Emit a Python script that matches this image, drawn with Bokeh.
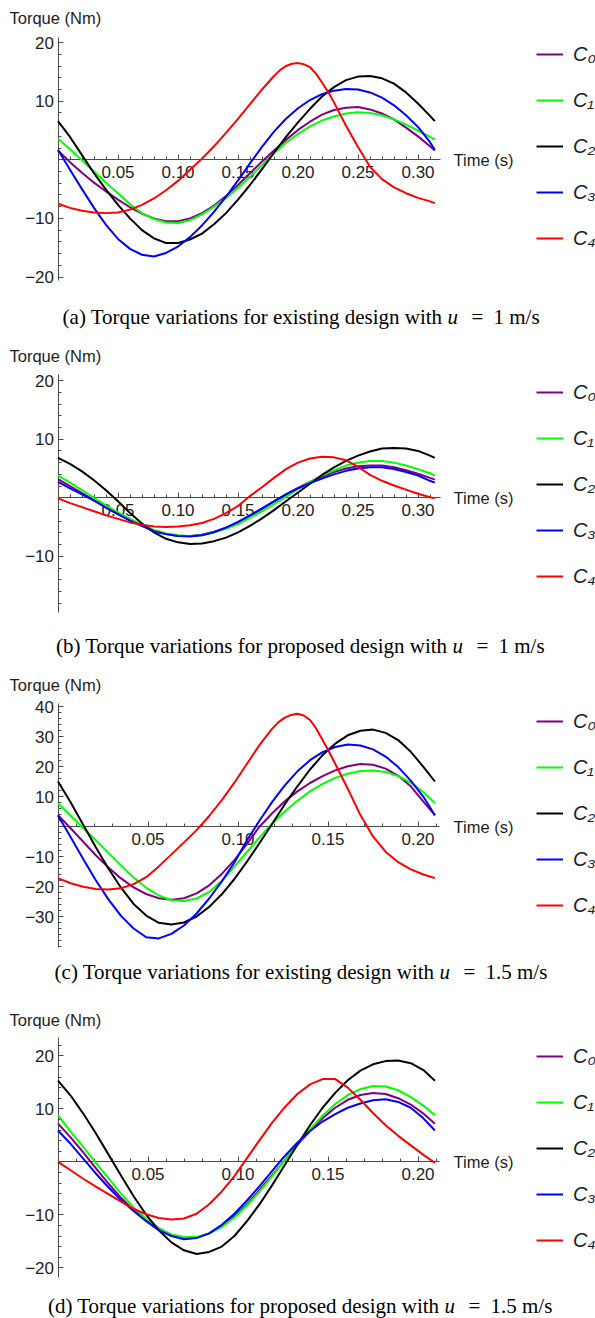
from bokeh.plotting import figure
from bokeh.models import Range1d, LinearAxis, FixedTicker, Label, Legend, LegendItem, PrintfTickFormatter
from bokeh.layouts import column
from bokeh.embed import file_html
from bokeh.resources import INLINE

# ---------------- data ----------------
time_u1 = [0.00, 0.01, 0.02, 0.03, 0.04, 0.05, 0.06, 0.07, 0.08, 0.09, 0.10, 0.11, 0.12, 0.13, 0.14, 0.15,
           0.16, 0.17, 0.18, 0.19, 0.20, 0.21, 0.22, 0.23, 0.24, 0.25, 0.26, 0.27, 0.28, 0.29, 0.30, 0.31, 0.314]
time_u15 = [0.000, 0.007, 0.014, 0.021, 0.028, 0.035, 0.042, 0.049, 0.056, 0.063, 0.070, 0.077, 0.084, 0.091,
            0.098, 0.105, 0.112, 0.119, 0.126, 0.133, 0.140, 0.147, 0.154, 0.161, 0.168, 0.175, 0.182, 0.189,
            0.196, 0.203, 0.2094]
# denser sampling around the sharp C4 peaks
time_u1_c4 = [0.00, 0.01, 0.02, 0.03, 0.04, 0.05, 0.06, 0.07, 0.08, 0.09, 0.10, 0.11, 0.12, 0.13, 0.14, 0.15,
              0.16, 0.17, 0.18, 0.185, 0.19, 0.195, 0.20, 0.205, 0.21, 0.215, 0.22, 0.225, 0.23, 0.235, 0.24,
              0.25, 0.26, 0.27, 0.28, 0.29, 0.30, 0.31, 0.314]
time_u15_c4 = [0.000, 0.007, 0.014, 0.021, 0.028, 0.035, 0.042, 0.049, 0.056, 0.063, 0.070, 0.077, 0.084, 0.091,
               0.098, 0.105, 0.112, 0.119, 0.1225, 0.126, 0.1295, 0.133, 0.1365, 0.140, 0.1435, 0.147, 0.1505,
               0.154, 0.161, 0.168, 0.175, 0.182, 0.189, 0.196, 0.203, 0.2094]

# (a) existing design, u = 1 m/s
a_C0 = [1.6, -0.4, -2.2, -3.9, -5.4, -6.8, -8.1, -9.2, -10.0, -10.5, -10.5, -10.0, -9.1, -7.8, -6.2, -4.3, -2.3,
        -0.3, 1.6, 3.4, 5.1, 6.5, 7.7, 8.5, 8.9, 9.0, 8.6, 7.9, 6.9, 5.5, 4.0, 2.3, 1.6]
a_C1 = [3.6, 1.8, -0.1, -2.0, -3.9, -5.7, -7.6, -9.1, -10.1, -10.7, -10.8, -10.3, -9.3, -8.0, -6.5, -4.8, -2.9,
        -0.9, 1.1, 2.9, 4.4, 5.7, 6.7, 7.4, 7.9, 8.1, 8.0, 7.6, 6.9, 6.0, 5.0, 3.9, 3.5]
a_C2 = [6.6, 3.9, 0.8, -2.3, -5.1, -7.7, -10.0, -12.0, -13.4, -14.2, -14.2, -13.6, -12.6, -11.0, -9.1, -6.8, -4.3,
        -1.6, 1.2, 3.9, 6.4, 8.7, 10.8, 12.4, 13.6, 14.2, 14.3, 13.9, 13.0, 11.5, 9.6, 7.5, 6.6]
a_C3 = [1.7, -1.7, -5.0, -8.2, -11.1, -13.5, -15.2, -16.2, -16.5, -15.9, -14.8, -13.2, -11.2, -8.9, -6.3, -3.5, -0.6,
        2.2, 4.8, 7.0, 8.8, 10.2, 11.2, 11.8, 12.1, 12.0, 11.5, 10.6, 9.3, 7.6, 5.6, 3.0, 1.7]
a_C4 = [-7.5, -8.2, -8.7, -9.0, -9.1, -9.0, -8.5, -7.7, -6.6, -5.2, -3.6, -1.7, 0.2, 2.3, 4.6, 7.0, 9.5, 12.0, 14.3,
        15.3, 16.0, 16.4, 16.5, 16.3, 15.8, 14.7, 13.2, 11.6, 9.8, 7.8, 5.8, 2.2, -1.2, -3.3, -4.7, -5.7, -6.5,
        -7.1, -7.4]

# (b) proposed design, u = 1 m/s
b_C0 = [3.2, 2.0, 0.8, -0.4, -1.6, -2.8, -3.8, -4.8, -5.7, -6.2, -6.5, -6.5, -6.3, -5.8, -5.1, -4.2, -3.1, -1.9,
        -0.6, 0.6, 1.7, 2.7, 3.6, 4.4, 5.0, 5.4, 5.5, 5.5, 5.2, 4.7, 4.1, 3.4, 3.1]
b_C1 = [3.8, 2.6, 1.3, 0.0, -1.3, -2.5, -3.6, -4.6, -5.5, -6.1, -6.4, -6.5, -6.4, -5.9, -5.3, -4.5, -3.4, -2.3,
        -1.1, 0.2, 1.5, 2.7, 3.8, 4.7, 5.5, 6.0, 6.3, 6.3, 6.0, 5.5, 4.9, 4.2, 3.8]
b_C2 = [6.8, 5.8, 4.5, 3.0, 1.3, -0.6, -2.6, -4.4, -5.9, -7.0, -7.6, -7.9, -7.8, -7.4, -6.8, -5.9, -4.8, -3.5,
        -2.1, -0.6, 0.9, 2.4, 3.9, 5.2, 6.3, 7.2, 7.9, 8.4, 8.5, 8.4, 8.0, 7.2, 6.8]
b_C3 = [2.7, 1.6, 0.6, -0.5, -1.7, -2.8, -3.9, -4.8, -5.7, -6.2, -6.5, -6.6, -6.4, -5.9, -5.1, -4.1, -3.0, -1.8,
        -0.6, 0.6, 1.6, 2.5, 3.3, 4.0, 4.6, 5.0, 5.2, 5.2, 4.9, 4.4, 3.8, 2.9, 2.6]
b_C4 = [-0.1, -0.9, -1.6, -2.3, -3.0, -3.6, -4.2, -4.6, -4.9, -5.0, -4.9, -4.7, -4.3, -3.6, -2.6, -1.4, 0.3, 1.8,
        3.4, 4.9, 6.0, 6.7, 7.0, 6.9, 6.4, 5.3, 3.9, 2.9, 2.1, 1.4, 0.7, 0.1, -0.1]

# (c) existing design, u = 1.5 m/s
c_C0 = [3.8, -0.6, -5.1, -9.6, -13.7, -17.3, -20.3, -22.5, -23.9, -24.4, -23.9, -22.3, -19.6, -15.8, -11.2, -5.8,
        0.0, 4.4, 8.4, 11.7, 14.5, 16.8, 18.7, 20.1, 20.8, 20.6, 19.3, 16.9, 13.4, 8.3, 3.8]
c_C1 = [7.8, 3.6, -0.5, -4.6, -8.8, -13.0, -17.0, -20.4, -23.0, -24.6, -24.8, -24.0, -21.8, -18.2, -13.4, -8.5,
        -3.6, 1.0, 5.0, 8.6, 11.7, 14.2, 16.2, 17.6, 18.5, 18.7, 18.2, 16.8, 14.6, 11.4, 7.8]
c_C2 = [15.0, 8.1, 0.6, -6.9, -14.0, -20.4, -25.8, -29.7, -32.1, -32.7, -32.0, -30.0, -26.8, -22.6, -17.5, -11.7,
        -5.5, 0.9, 7.4, 13.4, 19.0, 23.8, 27.6, 30.4, 31.9, 32.3, 31.2, 28.8, 24.9, 19.9, 15.0]
c_C3 = [3.7, -3.5, -10.8, -17.9, -24.3, -29.8, -34.0, -36.9, -37.3, -35.8, -33.0, -29.0, -24.0, -18.3, -12.0, -4.6,
        2.0, 8.2, 13.7, 18.4, 22.1, 24.8, 26.5, 27.3, 27.0, 25.7, 23.3, 19.8, 15.3, 9.9, 3.7]
c_C4 = [-17.2, -18.9, -20.1, -20.8, -21.0, -20.6, -19.2, -16.9, -13.3, -9.3, -5.3, -1.2, 3.5, 8.8, 14.6, 20.9,
        27.2, 32.6, 34.8, 36.3, 37.2, 37.6, 37.0, 35.5, 32.6, 28.8, 25.0, 20.9, 12.6, 3.8, -3.3, -8.4, -11.9, -14.3,
        -16.0, -17.2]

# (d) proposed design, u = 1.5 m/s
d_C0 = [7.2, 4.6, 1.8, -1.2, -4.1, -6.8, -9.1, -11.1, -12.8, -13.9, -14.4, -14.3, -13.5, -12.1, -10.2, -8.0, -5.3,
        -2.5, 0.3, 3.2, 5.8, 8.2, 10.2, 11.7, 12.6, 13.0, 12.8, 12.0, 10.8, 9.1, 7.2]
d_C1 = [8.8, 5.7, 2.8, -0.2, -3.1, -6.0, -8.6, -10.8, -12.5, -13.7, -14.2, -14.2, -13.5, -12.3, -10.5, -8.2, -5.6,
        -2.7, 0.3, 3.3, 6.1, 8.7, 10.9, 12.6, 13.7, 14.3, 14.2, 13.5, 12.2, 10.6, 8.8]
d_C2 = [15.3, 12.5, 9.1, 5.4, 1.4, -2.6, -6.5, -10.0, -12.9, -15.2, -16.7, -17.4, -17.0, -16.0, -14.0, -11.2, -8.0,
        -4.4, -0.6, 3.2, 6.9, 10.2, 13.0, 15.4, 17.2, 18.4, 19.0, 19.1, 18.6, 17.3, 15.3]
d_C3 = [5.9, 3.4, 0.6, -2.2, -4.8, -7.2, -9.3, -11.2, -12.9, -14.0, -14.6, -14.4, -13.5, -11.9, -9.8, -7.3, -4.6,
        -1.7, 1.1, 3.6, 5.8, 7.6, 9.0, 10.2, 11.0, 11.6, 11.8, 11.3, 10.2, 8.2, 5.9]
d_C4 = [0.0, -1.6, -3.2, -4.7, -6.1, -7.5, -8.9, -9.9, -10.6, -10.9, -10.7, -9.8, -8.0, -5.6, -2.7, 0.7, 4.1, 7.4,
        10.3, 12.8, 14.6, 15.6, 15.6, 14.0, 11.7, 9.2, 6.9, 4.9, 3.1, 1.3, -0.2]

series_names = ["C₀", "C₁", "C₂", "C₃", "C₄"]

xticks_u1 = [0.05, 0.10, 0.15, 0.20, 0.25, 0.30]
xticks_u15 = [0.05, 0.10, 0.15, 0.20]
yticks_a = [-20, -10, 10, 20]
yticks_b = [-10, 10, 20]
yticks_c = [-30, -20, -10, 10, 20, 30, 40]
yticks_d = [-20, -10, 10, 20]

captions = ["(a) Torque variations for existing design with",
            "(b) Torque variations for proposed design with",
            "(c) Torque variations for existing design with",
            "(d) Torque variations for proposed design with"]
speeds = ["1 m/s", "1 m/s", "1.5 m/s", "1.5 m/s"]

# ---------------- layout / style ----------------
COLORS = ["#800080", "#00ff00", "#000000", "#0000ff", "#ff0000"]
FIG_W = 595
AXIS_X = 57.5          # page x of t = 0
AXIS_COL = "#4a4a4a"
TXT_COL = "#1e1e1e"
CAP_SIZE = 21

layouts = [
    dict(top=0, height=335, zero=159.3, ppu=5.86, pps=1200, yb=(-20.6, 20.8), xend=0.319, cap_y=316, cap_ux=447),
    dict(top=335, height=333, zero=497.3, ppu=5.86, pps=1200, yb=(-19.6, 21.0), xend=0.319, cap_y=645, cap_ux=452),
    dict(top=668, height=327, zero=826.0, ppu=3.0, pps=1800, yb=(-40.3, 41.0), xend=0.2122, cap_y=971, cap_ux=439),
    dict(top=995, height=323, zero=1161.3, ppu=5.3, pps=1800, yb=(-21.9, 23.4), xend=0.2122, cap_y=1305, cap_ux=444),
]


def build_panel(curves, xticks, yticks, caption, speed, lay):
    H = lay["height"]
    top = lay["top"]
    oy = lay["zero"] - top
    pps, ppu = lay["pps"], lay["ppu"]

    def dx(page_x):
        return (page_x - AXIS_X) / pps

    def dy(page_y):
        return (oy - (page_y - top)) / ppu

    p = figure(width=FIG_W, height=H,
               x_range=Range1d(dx(0), dx(FIG_W)),
               y_range=Range1d(dy(top + H), dy(top)),
               output_backend="svg", toolbar_location=None, tools="",
               x_axis_location=None, y_axis_location=None, min_border=0)
    p.outline_line_color = None
    p.title.visible = False
    p.xgrid.visible = False
    p.ygrid.visible = False
    p.background_fill_color = "white"
    p.border_fill_color = "white"

    renderers = []
    for (times, vals), col in zip(curves, COLORS):
        renderers.append(p.line(times, vals, line_color=col, line_width=2, line_join="round"))

    # axes crossing at the origin
    step_x = 0.01
    xminor = [round(step_x * i, 2) for i in range(1, int(lay["xend"] / step_x) + 1)]
    yminor = [v for v in range(-44, 46, 2) if lay["yb"][0] <= v <= lay["yb"][1]]
    xa = LinearAxis(fixed_location=0, bounds=(0, lay["xend"]),
                    ticker=FixedTicker(ticks=xticks, minor_ticks=xminor),
                    formatter=PrintfTickFormatter(format="%.2f"))
    ya = LinearAxis(fixed_location=0, bounds=lay["yb"],
                    ticker=FixedTicker(ticks=yticks, minor_ticks=yminor),
                    major_label_overrides={v: (str(v) if v > 0 else "\u2212" + str(-v)) for v in yticks})
    for ax in (xa, ya):
        ax.level = "underlay"
        ax.axis_line_color = AXIS_COL
        ax.axis_line_width = 1
        ax.major_tick_line_color = AXIS_COL
        ax.minor_tick_line_color = AXIS_COL
        ax.major_tick_in = 5
        ax.major_tick_out = 0
        ax.minor_tick_in = 3
        ax.minor_tick_out = 0
        ax.major_label_text_font = "Liberation Sans"
        ax.major_label_text_font_size = "17px"
        ax.major_label_text_color = TXT_COL
    xa.major_label_standoff = 6
    ya.major_label_standoff = 4
    p.add_layout(xa, "below")
    p.add_layout(ya, "left")

    # axis titles
    p.add_layout(Label(x=dx(9), y=dy(lay["zero"] - 141.5), text="Torque (Nm)",
                       text_font="Liberation Sans", text_font_size="16.5px", text_color=TXT_COL,
                       text_align="left", text_baseline="middle"))
    p.add_layout(Label(x=dx(453), y=dy(lay["zero"] + 0.5), text="Time (s)",
                       text_font="Liberation Sans", text_font_size="16.5px", text_color=TXT_COL,
                       text_align="left", text_baseline="middle"))

    # legend
    items = [LegendItem(label=n, renderers=[r]) for n, r in zip(series_names, renderers)]
    legend_bottom = lay["zero"] + 92 - top
    leg = Legend(items=items, location=(536, H - legend_bottom),
                 orientation="vertical", padding=0, margin=0,
                 glyph_width=27, glyph_height=26, label_height=26, spacing=20, label_standoff=10,
                 label_text_font="Liberation Sans", label_text_font_style="italic",
                 label_text_font_size="20px", label_text_color=TXT_COL,
                 border_line_color=None, background_fill_alpha=0)
    p.add_layout(leg)

    # caption
    cy = dy(lay["cap_y"])
    ux = lay["cap_ux"]
    cap_kw = dict(text_font="Liberation Serif", text_font_size=f"{CAP_SIZE}px", text_color="#000000",
                  text_baseline="middle")
    p.add_layout(Label(x=dx(ux - 5), y=cy, text=caption, text_align="right", **cap_kw))
    p.add_layout(Label(x=dx(ux), y=cy, text="u", text_align="left", text_font_style="italic", **cap_kw))
    p.add_layout(Label(x=dx(ux + 24), y=cy, text="=", text_align="left", **cap_kw))
    p.add_layout(Label(x=dx(ux + 46), y=cy, text=speed, text_align="left", **cap_kw))
    return p


panels = [
    build_panel([(time_u1, a_C0), (time_u1, a_C1), (time_u1, a_C2), (time_u1, a_C3), (time_u1_c4, a_C4)],
                xticks_u1, yticks_a, captions[0], speeds[0], layouts[0]),
    build_panel([(time_u1, b_C0), (time_u1, b_C1), (time_u1, b_C2), (time_u1, b_C3), (time_u1, b_C4)],
                xticks_u1, yticks_b, captions[1], speeds[1], layouts[1]),
    build_panel([(time_u15, c_C0), (time_u15, c_C1), (time_u15, c_C2), (time_u15, c_C3), (time_u15_c4, c_C4)],
                xticks_u15, yticks_c, captions[2], speeds[2], layouts[2]),
    build_panel([(time_u15, d_C0), (time_u15, d_C1), (time_u15, d_C2), (time_u15, d_C3), (time_u15, d_C4)],
                xticks_u15, yticks_d, captions[3], speeds[3], layouts[3]),
]

layout = column(*panels, spacing=0)
open("out.html", "w").write(file_html(layout, INLINE))
